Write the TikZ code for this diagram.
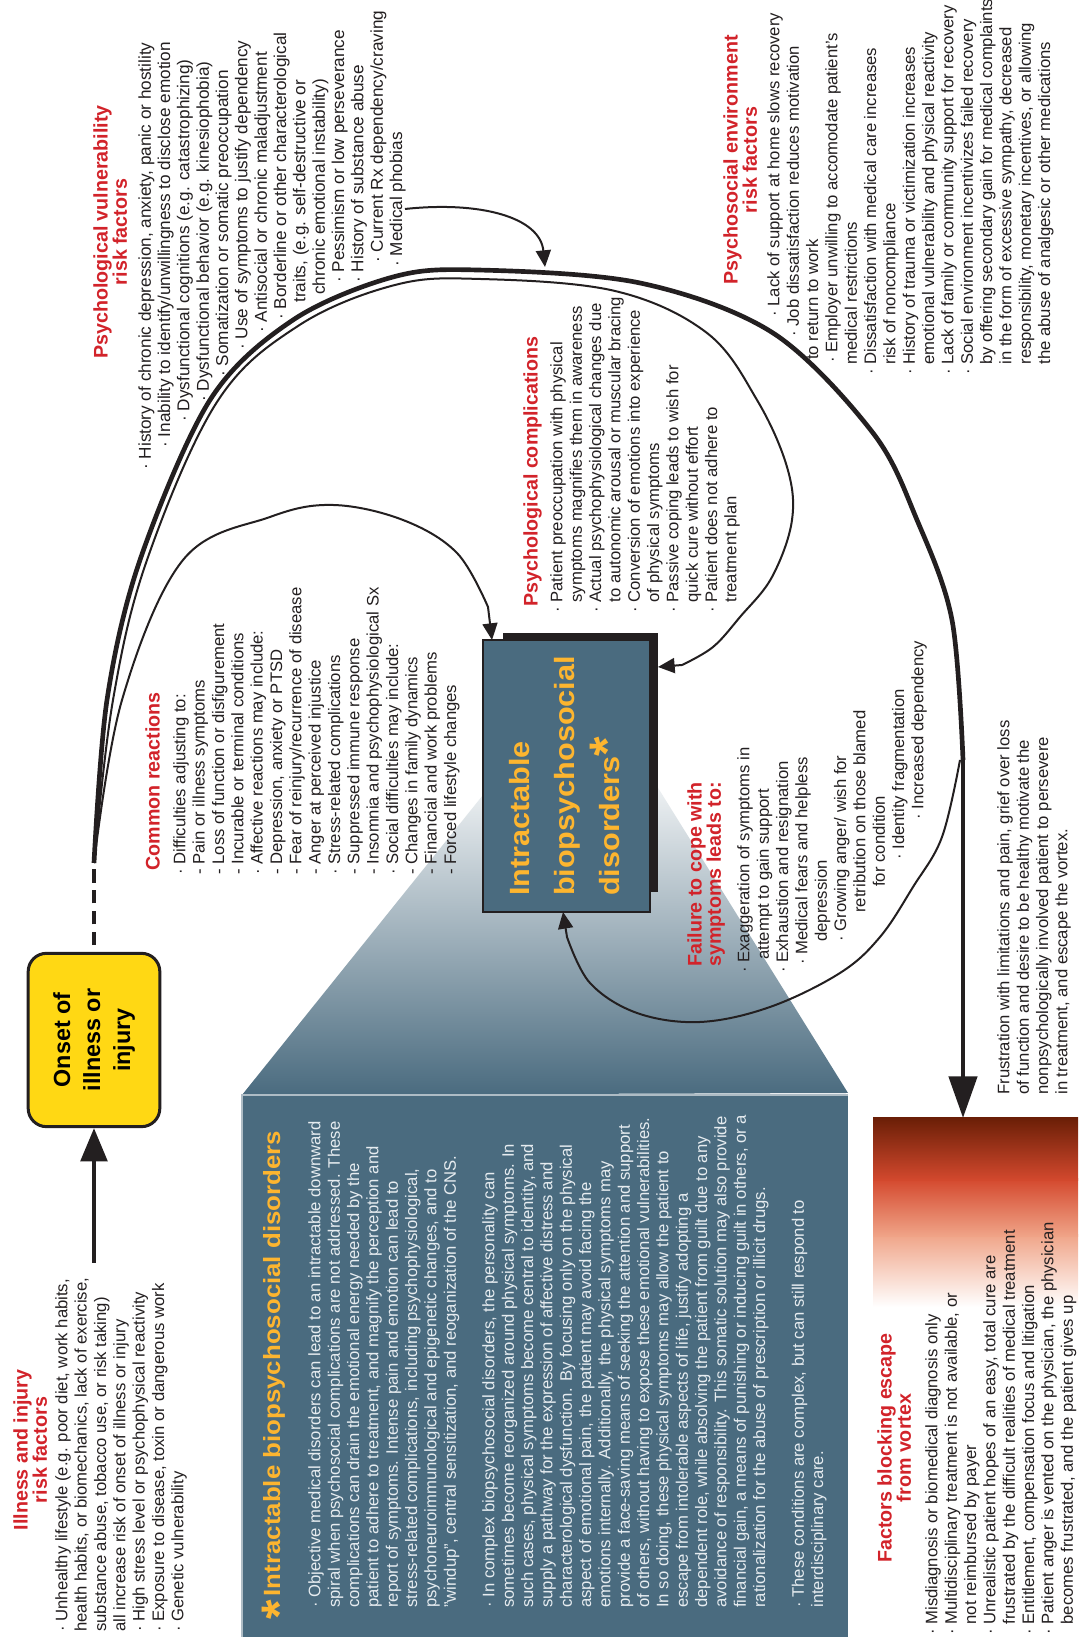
\documentclass[tikz,border=0pt]{standalone}
\usepackage{fontspec}
\setmainfont{Liberation Sans}
\usepackage{tikz}
\usetikzlibrary{arrows.meta,positioning,calc}
\definecolor{VxRed}{HTML}{D2232A}
\definecolor{VxInk}{HTML}{231F20}
\definecolor{VxSlate}{HTML}{4A6B7F}
\definecolor{VxPale}{HTML}{E6ECF0}
\definecolor{VxYellow}{HTML}{FFD814}
\definecolor{VxGold}{HTML}{FDB52F}
\definecolor{VxBrown}{HTML}{6B1F07}
\definecolor{VxRust}{HTML}{D4492E}
\definecolor{VxSalmon}{HTML}{F0A589}
\newcommand{\bul}{·\ }
\newcommand{\cont}{\phantom{·\ }}
\newcommand{\heavy}[1]{\scalebox{1.1}[1]{\bfseries #1}}

\begin{document}
\begin{tikzpicture}[x=0.6pt,y=0.6pt,rotate=90,transform shape,
  body/.style={font=\fontsize{10}{11.6}\selectfont,text=VxInk,align=left,inner sep=0pt,anchor=north west},
  head/.style={font=\fontsize{11.8}{11.6}\selectfont\bfseries,text=VxRed,align=center,inner sep=0pt},
  flow/.style={line width=1.2pt,draw=VxInk,-{Triangle[width=9pt,length=10pt]}},
  vortex/.style={line width=2.8pt,draw=VxInk}]
  \fill[white] (0,0) rectangle (1637,-1078);
  \useasboundingbox (0,0) rectangle (1637,-1078);

  % zoom wedge and note panel
  \shade[bottom color=VxSlate,middle color=VxSlate!45!white,top color=white!94!VxSlate]
    (542,-242) -- (842,-483) -- (862,-650) -- (544,-848) -- cycle;
  \fill[VxSlate] (0,-242) rectangle (542,-848);
  \draw[white!55!VxSlate,line width=1.2pt] (0,-242) -- (542,-242) -- (542,-848);

  % escape-blocking panel
  \shade[bottom color=white,top color=VxSalmon] (330,-873) rectangle (402,-1078);
  \shade[bottom color=VxSalmon,top color=VxRust] (400,-873) rectangle (458,-1078);
  \shade[bottom color=VxRust,top color=VxBrown] (456,-873) rectangle (519,-1078);
  \coordinate (escape) at (519,-963);

  % central box
  \fill[VxInk] (745,-503) rectangle (1004,-658);
  \node[fill=VxSlate,draw=VxInk,line width=1.2pt,minimum width=163.2pt,minimum height=100.2pt,
    inner sep=0pt,font=\fontsize{16.7}{27}\selectfont,text=VxGold,align=left] (ibd) at (861,-566.5)
    {\heavy{Intractable}\\\heavy{biopsychosocial}\\\heavy{disorders}\raisebox{-3pt}{\fontsize{30}{30}\selectfont\bfseries *}};

  % onset
  \node[draw=VxInk,line width=1.8pt,fill=VxYellow,rounded corners=11pt,minimum width=104pt,
    minimum height=79pt,align=center,inner sep=0pt,font=\fontsize{14}{18}\selectfont\bfseries] (onset)
    at (597,-94) {Onset of\\illness or\\injury};

  % headings
  \node[head,anchor=north] (illhead) at (187,-13) {Illness and injury\\risk factors};
  \node[head,anchor=north west] (commhead) at (766,-145) {Common reactions};
  \node[head,anchor=north] (vulnhead) at (1405,-93) {Psychological vulnerability\\risk factors};
  \node[head,anchor=north west] (comphead) at (1030,-523) {Psychological complications};
  \node[head,anchor=north] (envhead) at (1477,-723) {Psychosocial environment\\risk factors};
  \node[head,anchor=north west,align=left] (failhead) at (670,-687) {Failure to cope with\\symptoms leads to:};
  \node[head,anchor=north] (facthead) at (189,-877) {Factors blocking escape\\from vortex};

  % lists
  \node[body] (illlist) at (5,-55) {\bul Unhealthy lifestyle (e.g. poor diet, work habits,\\
    health habits, or biomechanics, lack of exercise,\\
    substance abuse, tobacco use, or risk taking)\\
    all increase risk of onset of illness or injury\\
    \bul High stress level or psychophysical reactivity\\
    \bul Exposure to disease, toxin or dangerous work\\
    \bul Genetic vulnerability};

  \node[body] (commlist) at (762,-173) {\bul Difficulties adjusting to:\\
    - Pain or illness symptoms\\
    - Loss of function or disfigurement\\
    - Incurable or terminal conditions\\
    \bul Affective reactions may include:\\
    - Depression, anxiety or PTSD\\
    - Fear of reinjury/recurrence of disease\\
    - Anger at perceived injustice\\
    \bul Stress-related complications\\
    - Suppressed immune response\\
    - Insomnia and psychophysiological Sx\\
    \bul Social difficulties may include:\\
    - Changes in family dynamics\\
    - Financial and work problems\\
    - Forced lifestyle changes};

  \node[body,font=\fontsize{10.3}{11.6}\selectfont] (vulnlist) at (1167,-138) {\bul History of chronic depression, anxiety, panic or hostility\\
    \hspace*{13.2pt}\bul Inability to identify/unwillingness to disclose emotion\\
    \hspace*{28.8pt}\bul Dysfunctional cognitions (e.g. catastrophizing)\\
    \hspace*{40.8pt}\bul Dysfunctional behavior (e.g. kinesiophobia)\\
    \hspace*{55.8pt}\bul Somatization or somatic preoccupation\\
    \hspace*{72pt}\bul Use of symptoms to justify dependency\\
    \hspace*{82.2pt}\bul Antisocial or chronic maladjustment\\
    \hspace*{90pt}\bul Borderline or other characterological\\
    \hspace*{100.2pt}traits, (e.g. self-destructive or\\
    \hspace*{105pt}chronic emotional instability)\\
    \hspace*{112.2pt}\bul Pessimism or low perseverance\\
    \hspace*{112.2pt}\bul History of substance abuse\\
    \hspace*{124.2pt}\bul Current Rx dependency/craving\\
    \hspace*{121.8pt}\bul Medical phobias};

  \node[body] (complist) at (1024,-550) {\bul Patient preoccupation with physical\\
    \cont symptoms magnifies them in awareness\\
    \bul Actual psychophysiological changes due\\
    \cont to autonomic arousal or muscular bracing\\
    \bul Conversion of emotions into experience\\
    \cont of physical symptoms\\
    \bul Passive coping leads to wish for\\
    \cont quick cure without effort\\
    \bul Patient does not adhere to\\
    \cont treatment plan};

  \node[body] (envlist) at (1262,-767) {\hspace*{34.8pt}\bul Lack of support at home slows recovery\\
    \hspace*{22.8pt}\bul Job dissatisfaction reduces motivation\\
    \hspace*{9pt}to return to work\\
    \hspace*{7.2pt}\bul Employer unwilling to accomodate patient's\\
    \cont medical restrictions\\
    \bul Dissatisfaction with medical care increases\\
    \cont risk of noncompliance\\
    \bul History of trauma or victimization increases\\
    \cont emotional vulnerability and physical reactivity\\
    \bul Lack of family or community support for recovery\\
    \bul Social environment incentivizes failed recovery\\
    \cont by offering secondary gain for medical complaints\\
    \cont in the form of excessive sympathy, decreased\\
    \cont responsibility, monetary incentives, or allowing\\
    \cont the abuse of analgesic or other medications};

  \node[body] (faillist) at (664,-737) {\bul Exaggeration of symptoms in\\
    \hspace*{7.8pt}attempt to gain support\\
    \bul Exhaustion and resignation\\
    \hspace*{4.8pt}\bul Medical fears and helpless\\
    \hspace*{18.6pt}depression\\
    \hspace*{18.6pt}\bul Growing anger/ wish for\\
    \hspace*{36pt}retribution on those blamed\\
    \hspace*{51.6pt}for condition\\
    \hspace*{67.8pt}\bul Identity fragmentation\\
    \hspace*{91.8pt}\bul Increased dependency};

  \node[body] (factlist) at (2,-925) {\bul Misdiagnosis or biomedical diagnosis only\\
    \bul Multidisciplinary treatment is not available, or\\
    \cont not reimbursed by payer\\
    \bul Unrealistic patient hopes of an easy, total cure are\\
    \cont frustrated by the difficult realities of medical treatment\\
    \bul Entitlement, compensation focus and litigation\\
    \bul Patient anger is vented on the physician, the physician\\
    \cont becomes frustrated, and the patient gives up};

  \node[body] (frust) at (542,-997) {Frustration with limitations and pain, grief over loss\\
    of function and desire to be healthy motivate the\\
    nonpsychologically involved patient to persevere\\
    in treatment, and escape the vortex.};

  % note panel text
  \node[anchor=base west,inner sep=0pt,text=VxGold,font=\fontsize{14.1}{14.1}\selectfont] (notetitle) at (17,-280)
    {\raisebox{-10pt}{\fontsize{30}{30}\selectfont\bfseries *}\,\heavy{Intractable biopsychosocial disorders}};
  \node[body,text=VxPale] (note) at (29,-308) {\bul Objective medical disorders can lead to an intractable downward\\
    spiral when psychosocial complications are not addressed. These\\
    complications can drain the emotional energy needed by the\\
    patient to adhere to treatment, and magnify the perception and\\
    report of symptoms. Intense pain and emotion can lead to\\
    stress-related complications, including psychophysiological,\\
    psychoneuroimmunological and epigenetic changes, and to\\
    "windup", central sensitization, and reoganization of the CNS.\\[11.6pt]
    \bul In complex biopsychosocial disorders, the personality can\\
    sometimes become reorganized around physical symptoms. In\\
    such cases, physical symptoms become central to identity, and\\
    supply a pathway for the expression of affective distress and\\
    characterological dysfunction. By focusing only on the physical\\
    aspect of emotional pain, the patient may avoid facing the\\
    emotions internally. Additionally, the physical symptoms may\\
    provide a face-saving means of seeking the attention and support\\
    of others, without having to expose these emotional vulnerabilities.\\
    In so doing, these physical symptoms may allow the patient to\\
    escape from intolerable aspects of life, justify adopting a\\
    dependent role, while absolving the patient from guilt due to any\\
    avoidance of responsibility. This somatic solution may also provide\\
    financial gain, a means of punishing or inducing guilt in others, or a\\
    rationalization for the abuse of prescription or illicit drugs.\\[11.6pt]
    \bul These conditions are complex, but can still respond to\\
    interdisciplinary care.};

  % connectors
  \coordinate (feed) at (374,-94);
  \coordinate (spstart) at (774,-94);
  \draw[line width=2.4pt,draw=VxInk,-{Triangle[width=16pt,length=20pt]}] (feed) -- (onset);
  \draw[vortex,line width=2.4pt,dash pattern=on 8pt off 4.5pt,dash phase=-4pt] (onset.east) -- (spstart);
  \draw[vortex] plot[smooth,tension=0.55] coordinates {(spstart) (937,-107) (1077,-140) (1237,-210)
    (1317,-293) (1360,-393) (1367,-477) (1354,-640) (1304,-773) (1204,-873) (1117,-917) (1017,-952) (877,-963)};
  \draw[vortex,-{Triangle[width=16.8pt,length=25pt]}] (877,-963) -- (escape);

  \coordinate (inreact) at (997,-492);
  \coordinate (incomp) at (970,-658);
  \coordinate (infail) at (725,-563);
  \draw[flow] plot[smooth,tension=0.6] coordinates {(spstart) (937,-122) (1077,-183) (1120,-270)
    (1132,-333) (1117,-403) (1084,-457) (1030,-488)} -- (inreact);
  \draw[flow] plot[smooth,tension=0.6] coordinates {(spstart) (937,-113) (1077,-147) (1235,-217)
    (1311,-298) (1352,-395) (1358,-480) (1346,-615) (1304,-707) (1237,-757) (1170,-787) (1117,-792)
    (1060,-772) (1020,-740) (990,-713) (972,-682)} -- (incomp);
  \draw[flow] plot[smooth,tension=0.6] coordinates {(877,-960) (800,-942) (750,-913) (700,-880)
    (664,-840) (630,-770) (615,-700) (624,-637) (654,-590) (700,-567)} -- (infail);

  \coordinate (vulnstart) at (1428,-405);
  \coordinate (vulntip) at (1370,-545);
  \draw[flow] (vulnstart) .. controls (1436,-480) and (1420,-540) .. (vulntip);
\end{tikzpicture}
\end{document}
